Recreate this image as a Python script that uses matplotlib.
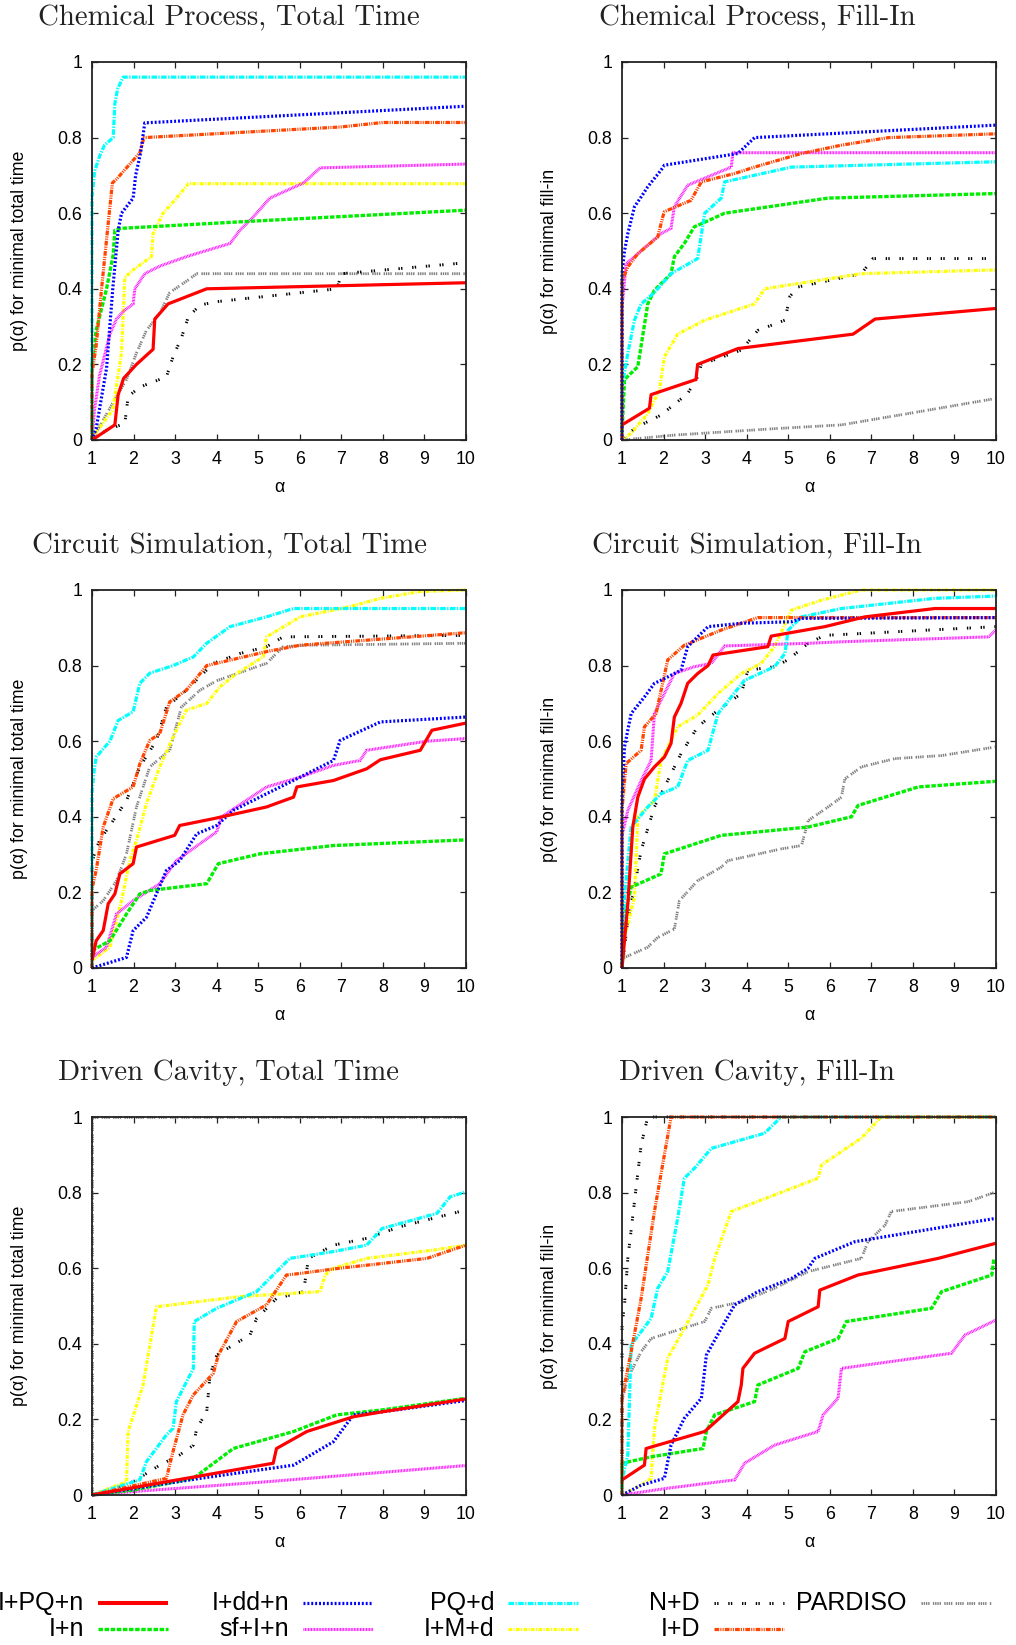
import matplotlib
matplotlib.use("Agg")
import matplotlib.pyplot as plt
from matplotlib.lines import Line2D

plt.rcParams['font.family'] = ['Liberation Sans', 'DejaVu Sans']
plt.rcParams['lines.scale_dashes'] = False

# ---------------- data ----------------
SERIES = ['I+PQ+n', 'I+n', 'I+dd+n', 'sf+I+n', 'PQ+d', 'I+M+d', 'N+D', 'I+D', 'PARDISO']
DRAW_ORDER = ['PARDISO', 'N+D', 'I+M+d', 'sf+I+n', 'I+n', 'PQ+d', 'I+D', 'I+dd+n', 'I+PQ+n']

X_TICKS = [1, 2, 3, 4, 5, 6, 7, 8, 9, 10]
Y_TICKS = [0, 0.2, 0.4, 0.6, 0.8, 1.0]
Y_TICK_LABELS = ['0', '0.2', '0.4', '0.6', '0.8', '1']

TITLES = ['Chemical Process, Total Time', 'Chemical Process, Fill-In',
          'Circuit Simulation, Total Time', 'Circuit Simulation, Fill-In',
          'Driven Cavity, Total Time', 'Driven Cavity, Fill-In']
YLABELS = ['p(α) for minimal total time', 'p(α) for minimal fill-in'] * 3
XLABEL = 'α'

CHEM_TIME = {
    'I+PQ+n': ([1, 1.55, 1.63, 1.76, 2.07, 2.47, 2.51, 2.83, 3.76, 10],
               [0, 0.04, 0.12, 0.163, 0.20, 0.24, 0.32, 0.36, 0.40, 0.416]),
    'I+dd+n': ([1, 1.1, 1.35, 1.5, 1.63, 1.71, 1.99, 2.05, 2.17, 2.27, 10],
               [0, 0.03, 0.19, 0.40, 0.555, 0.60, 0.64, 0.70, 0.76, 0.839, 0.883]),
    'PQ+d': ([1, 1.0, 1.06, 1.18, 1.3, 1.51, 1.55, 1.62, 1.75, 10],
             [0, 0.64, 0.71, 0.75, 0.78, 0.80, 0.89, 0.93, 0.96, 0.96]),
    'N+D': ([1, 1.35, 1.79, 1.87, 2.15, 2.79, 2.95, 3.15, 3.32, 3.6, 4.0, 6.89, 7.01, 10],
            [0, 0.026, 0.044, 0.115, 0.14, 0.167, 0.22, 0.27, 0.326, 0.357, 0.366, 0.40, 0.44, 0.469]),
    'PARDISO': ([1, 1.51, 1.83, 2.07, 2.31, 2.63, 2.87, 3.27, 3.52, 10],
                [0, 0.10, 0.16, 0.23, 0.29, 0.335, 0.39, 0.42, 0.44, 0.44]),
    'I+n': ([1, 1.0, 1.1, 1.35, 1.51, 1.55, 1.71, 5.04, 10],
            [0, 0.2, 0.29, 0.40, 0.49, 0.555, 0.56, 0.58, 0.608]),
    'sf+I+n': ([1, 1.06, 1.18, 1.43, 1.59, 1.75, 1.99, 2.03, 2.27, 2.63, 3.27, 4.32, 4.56, 4.88, 5.28, 6.09, 6.49, 10],
               [0, 0.08, 0.17, 0.28, 0.32, 0.34, 0.36, 0.40, 0.44, 0.46, 0.485, 0.52, 0.555, 0.59, 0.64, 0.68, 0.72, 0.73]),
    'I+M+d': ([1, 1.1, 1.5, 1.71, 1.79, 1.99, 2.43, 2.47, 2.71, 2.99, 3.32, 10],
              [0, 0.02, 0.08, 0.23, 0.43, 0.45, 0.485, 0.546, 0.60, 0.634, 0.678, 0.678]),
    'I+D': ([1, 1.0, 1.1, 1.23, 1.35, 1.49, 1.59, 2.15, 2.25, 6.97, 8.0, 10],
            [0, 0.176, 0.25, 0.40, 0.53, 0.68, 0.69, 0.76, 0.80, 0.828, 0.84, 0.84]),
}

CHEM_FILL = {
    'I+PQ+n': ([1, 1.66, 1.70, 2.78, 2.82, 3.79, 6.56, 7.09, 10],
               [0.04, 0.084, 0.12, 0.16, 0.20, 0.242, 0.28, 0.32, 0.348]),
    'I+dd+n': ([1, 1.0, 1.06, 1.14, 1.30, 1.46, 1.62, 1.94, 2.02, 3.79, 4.19, 10],
               [0, 0.44, 0.50, 0.546, 0.617, 0.643, 0.67, 0.714, 0.727, 0.758, 0.80, 0.833]),
    'PQ+d': ([1, 1.0, 1.14, 1.30, 1.46, 1.78, 2.18, 2.82, 2.99, 3.39, 3.47, 5.08, 10],
             [0.035, 0.14, 0.23, 0.317, 0.36, 0.39, 0.44, 0.48, 0.60, 0.64, 0.683, 0.722, 0.736]),
    'N+D': ([1, 1.14, 1.46, 1.94, 2.58, 2.82, 2.91, 3.87, 4.27, 4.92, 5.04, 5.24, 6.76, 7.04, 10],
            [0, 0.018, 0.04, 0.066, 0.123, 0.167, 0.20, 0.238, 0.29, 0.317, 0.38, 0.405, 0.44, 0.48, 0.48]),
    'PARDISO': ([1, 2.26, 4.67, 6.28, 7.89, 10],
                [0, 0.013, 0.03, 0.04, 0.07, 0.11]),
    'I+n': ([1, 1.06, 1.38, 1.62, 1.78, 2.18, 2.26, 2.50, 2.74, 3.07, 3.47, 5.96, 10],
            [0.018, 0.16, 0.194, 0.36, 0.396, 0.44, 0.485, 0.52, 0.564, 0.58, 0.60, 0.64, 0.652]),
    'sf+I+n': ([1, 1.0, 1.1, 1.30, 1.94, 2.18, 2.26, 2.58, 3.63, 3.67, 10],
               [0, 0.35, 0.467, 0.485, 0.546, 0.56, 0.617, 0.674, 0.722, 0.76, 0.76]),
    'I+M+d': ([1, 1.22, 1.62, 1.90, 2.02, 2.34, 2.99, 4.19, 4.43, 6.76, 10],
              [0, 0.018, 0.07, 0.132, 0.22, 0.28, 0.317, 0.36, 0.40, 0.44, 0.45]),
    'I+D': ([1, 1.0, 1.14, 1.38, 1.86, 1.98, 2.02, 2.66, 2.91, 3.71, 4.19, 5.32, 6.28, 7.41, 10],
            [0, 0.42, 0.458, 0.493, 0.537, 0.59, 0.604, 0.634, 0.683, 0.705, 0.722, 0.758, 0.78, 0.80, 0.81]),
}

CIRC_TIME = {
    'I+PQ+n': ([1, 1.10, 1.27, 1.39, 1.55, 1.67, 1.99, 2.07, 2.99, 3.11, 3.92, 5.2, 5.85, 5.93, 6.81, 7.61, 7.94, 8.90, 9.18, 10],
               [0.02, 0.072, 0.099, 0.17, 0.196, 0.249, 0.276, 0.32, 0.351, 0.377, 0.395, 0.426, 0.452, 0.479, 0.496, 0.527, 0.551, 0.576, 0.629, 0.648]),
    'I+dd+n': ([1, 1.83, 1.99, 2.31, 2.55, 2.79, 3.11, 3.52, 4.0, 4.40, 5.2, 6.01, 6.81, 6.97, 7.94, 10],
               [0, 0.028, 0.099, 0.134, 0.196, 0.258, 0.284, 0.355, 0.377, 0.417, 0.461, 0.505, 0.549, 0.602, 0.651, 0.664]),
    'PQ+d': ([1, 1.0, 1.04, 1.10, 1.43, 1.63, 1.99, 2.15, 2.39, 2.95, 3.44, 3.76, 4.32, 5.20, 5.85, 10],
             [0, 0.46, 0.514, 0.558, 0.60, 0.655, 0.678, 0.753, 0.78, 0.80, 0.823, 0.859, 0.903, 0.929, 0.951, 0.951]),
    'N+D': ([1, 1.0, 1.06, 1.18, 1.51, 1.83, 2.15, 2.55, 2.79, 3.27, 3.92, 4.56, 5.20, 5.60, 10],
            [0, 0.28, 0.302, 0.337, 0.39, 0.443, 0.532, 0.602, 0.69, 0.735, 0.806, 0.832, 0.85, 0.876, 0.88]),
    'PARDISO': ([1, 1.0, 1.27, 1.59, 1.83, 2.07, 2.39, 2.87, 3.15, 3.60, 4.0, 5.2, 5.60, 6.17, 10],
                [0, 0.152, 0.178, 0.231, 0.302, 0.426, 0.532, 0.576, 0.69, 0.735, 0.76, 0.806, 0.85, 0.854, 0.859]),
    'I+n': ([1, 1.43, 1.83, 2.15, 2.39, 3.76, 4.04, 5.04, 6.81, 10],
            [0.046, 0.072, 0.143, 0.196, 0.205, 0.223, 0.276, 0.302, 0.324, 0.339]),
    'sf+I+n': ([1, 1.35, 1.59, 1.99, 2.63, 3.03, 3.60, 4.0, 4.12, 5.2, 6.01, 6.81, 7.45, 7.61, 9.06, 10],
               [0.028, 0.055, 0.143, 0.178, 0.223, 0.284, 0.329, 0.36, 0.40, 0.479, 0.505, 0.536, 0.549, 0.576, 0.60, 0.607]),
    'I+M+d': ([1, 1.43, 1.71, 1.91, 2.07, 2.31, 2.63, 2.99, 3.27, 3.76, 4.08, 4.48, 5.12, 5.20, 6.01, 7.21, 7.94, 8.90, 10],
              [0.02, 0.055, 0.178, 0.284, 0.337, 0.435, 0.532, 0.62, 0.682, 0.70, 0.744, 0.779, 0.823, 0.876, 0.929, 0.956, 0.978, 0.996, 1.0]),
    'I+D': ([1, 1.0, 1.10, 1.27, 1.51, 1.99, 2.15, 2.39, 2.63, 2.87, 3.27, 3.76, 5.20, 6.01, 10],
            [0, 0.21, 0.258, 0.373, 0.448, 0.479, 0.54, 0.602, 0.62, 0.704, 0.735, 0.80, 0.837, 0.854, 0.887]),
}

CIRC_FILL = {
    'I+PQ+n': ([1, 1.14, 1.26, 1.38, 1.54, 1.78, 2.02, 2.18, 2.26, 2.42, 2.58, 2.82, 3.07, 3.19, 4.51, 4.59, 5.88, 6.85, 8.53, 10],
               [0, 0.17, 0.373, 0.452, 0.50, 0.532, 0.558, 0.594, 0.664, 0.70, 0.753, 0.779, 0.80, 0.828, 0.85, 0.878, 0.903, 0.929, 0.951, 0.951]),
    'I+dd+n': ([1, 1.0, 1.06, 1.22, 1.54, 1.78, 2.10, 2.42, 2.58, 3.07, 3.87, 5.08, 5.32, 10],
               [0, 0.45, 0.585, 0.673, 0.717, 0.753, 0.77, 0.788, 0.85, 0.903, 0.912, 0.916, 0.925, 0.927]),
    'PQ+d': ([1, 1.06, 1.22, 1.62, 1.94, 2.34, 2.58, 3.07, 3.31, 3.95, 4.67, 4.92, 5.0, 5.32, 6.28, 8.53, 10],
             [0, 0.187, 0.373, 0.426, 0.461, 0.479, 0.549, 0.576, 0.673, 0.761, 0.797, 0.832, 0.894, 0.929, 0.951, 0.978, 0.984]),
    'N+D': ([1, 1.14, 1.30, 1.46, 1.78, 2.10, 2.42, 2.82, 3.31, 3.87, 4.03, 4.67, 4.99, 5.48, 5.88, 10],
            [0, 0.125, 0.214, 0.311, 0.426, 0.496, 0.567, 0.638, 0.682, 0.726, 0.788, 0.797, 0.815, 0.859, 0.88, 0.903]),
    'PARDISO': ([1, 1.0, 1.62, 1.86, 2.26, 2.38, 2.82, 3.39, 3.55, 4.83, 5.32, 5.48, 5.96, 6.28, 6.36, 6.76, 7.57, 8.69, 10],
                [0, 0.025, 0.055, 0.081, 0.103, 0.178, 0.231, 0.267, 0.284, 0.315, 0.324, 0.39, 0.426, 0.452, 0.50, 0.532, 0.554, 0.562, 0.585]),
    'I+n': ([1, 1.06, 1.22, 1.94, 2.02, 3.39, 4.27, 5.48, 6.52, 6.68, 8.13, 10],
            [0, 0.134, 0.214, 0.249, 0.302, 0.351, 0.36, 0.373, 0.40, 0.43, 0.479, 0.494]),
    'sf+I+n': ([1, 1.0, 1.14, 1.46, 1.70, 1.78, 2.26, 2.74, 3.15, 3.47, 5.48, 6.28, 9.82, 10],
               [0, 0.35, 0.417, 0.496, 0.549, 0.673, 0.779, 0.797, 0.806, 0.852, 0.859, 0.863, 0.876, 0.894]),
    'I+M+d': ([1, 1.06, 1.30, 1.38, 1.78, 1.94, 2.34, 2.82, 3.31, 3.87, 4.35, 4.67, 5.08, 5.80, 6.76, 10],
              [0, 0.081, 0.187, 0.40, 0.443, 0.549, 0.638, 0.669, 0.726, 0.779, 0.806, 0.85, 0.947, 0.973, 1.0, 1.0]),
    'I+D': ([1, 1.0, 1.10, 1.46, 1.54, 1.82, 2.10, 2.50, 3.39, 4.27, 10],
            [0, 0.42, 0.541, 0.576, 0.638, 0.673, 0.815, 0.854, 0.894, 0.927, 0.927]),
}

DRIV_TIME = {
    'I+PQ+n': ([1, 2.79, 5.36, 5.44, 6.17, 7.29, 7.98, 10],
               [0, 0.035, 0.084, 0.123, 0.168, 0.207, 0.22, 0.254]),
    'I+dd+n': ([1, 3.60, 5.85, 6.81, 7.29, 7.98, 10],
               [0, 0.044, 0.079, 0.141, 0.212, 0.22, 0.25]),
    'PQ+d': ([1, 2.15, 2.31, 2.79, 2.95, 3.03, 3.44, 3.46, 4.0, 4.96, 5.76, 6.0, 6.81, 7.61, 7.98, 9.30, 9.62, 10],
             [0, 0.04, 0.088, 0.159, 0.176, 0.247, 0.335, 0.459, 0.494, 0.538, 0.626, 0.63, 0.644, 0.661, 0.705, 0.745, 0.789, 0.802]),
    'N+D': ([1, 1.99, 2.63, 3.11, 3.44, 3.52, 3.76, 3.84, 4.0, 4.40, 4.80, 4.96, 5.44, 6.09, 6.21, 6.81, 7.61, 8.42, 10],
            [0, 0.035, 0.079, 0.106, 0.132, 0.176, 0.22, 0.317, 0.37, 0.397, 0.423, 0.467, 0.52, 0.538, 0.626, 0.661, 0.679, 0.71, 0.754]),
    'PARDISO': ([1, 1, 10],
                [0, 1, 1]),
    'I+n': ([1, 1.99, 3.44, 4.40, 5.85, 6.89, 7.98, 10],
            [0, 0.013, 0.044, 0.123, 0.168, 0.212, 0.225, 0.256]),
    'sf+I+n': ([1, 1.99, 5.2, 10],
               [0, 0.009, 0.035, 0.078]),
    'I+M+d': ([1, 1.83, 1.87, 2.23, 2.55, 4.56, 6.49, 6.61, 6.81, 7.61, 9.22, 10],
              [0, 0.035, 0.168, 0.291, 0.498, 0.525, 0.538, 0.582, 0.60, 0.626, 0.648, 0.661]),
    'I+D': ([1, 2.79, 2.95, 3.19, 3.44, 3.92, 4.04, 4.48, 5.20, 5.68, 6.0, 6.81, 9.06, 10],
            [0, 0.044, 0.115, 0.212, 0.265, 0.322, 0.37, 0.459, 0.503, 0.582, 0.586, 0.598, 0.626, 0.661]),
}

DRIV_FILL = {
    'I+PQ+n': ([1, 1.54, 1.58, 2.99, 3.79, 3.87, 3.91, 4.19, 4.92, 5.0, 5.72, 5.76, 6.68, 8.61, 10],
               [0.04, 0.079, 0.123, 0.168, 0.247, 0.291, 0.335, 0.375, 0.414, 0.459, 0.498, 0.542, 0.582, 0.626, 0.666]),
    'I+dd+n': ([1, 1.46, 2.02, 2.18, 2.50, 2.91, 3.03, 3.39, 3.71, 4.27, 5.08, 5.48, 5.64, 6.60, 10],
               [0, 0.026, 0.044, 0.132, 0.203, 0.256, 0.37, 0.441, 0.503, 0.538, 0.573, 0.60, 0.626, 0.67, 0.732]),
    'PQ+d': ([1, 1.0, 1.14, 1.22, 1.46, 1.70, 1.86, 2.10, 2.34, 2.50, 2.74, 3.15, 4.43, 4.83, 10],
             [0, 0.04, 0.106, 0.397, 0.432, 0.467, 0.547, 0.591, 0.732, 0.838, 0.864, 0.917, 0.957, 1.0, 1.0]),
    'N+D': ([1, 1.0, 1.06, 1.14, 1.30, 1.46, 1.62, 10],
            [0, 0.45, 0.503, 0.626, 0.776, 0.926, 1.0, 1.0]),
    'PARDISO': ([1, 1.0, 1.14, 1.46, 1.70, 2.99, 3.15, 3.87, 4.67, 5.48, 6.76, 6.92, 7.33, 7.48, 9.33, 10],
                [0, 0.25, 0.309, 0.379, 0.414, 0.459, 0.494, 0.511, 0.547, 0.591, 0.626, 0.67, 0.714, 0.75, 0.776, 0.802]),
    'I+n': ([1, 1.0, 1.70, 2.95, 3.03, 3.23, 4.19, 4.27, 5.24, 5.40, 6.20, 6.40, 8.45, 8.69, 9.90, 9.95],
            [0, 0.084, 0.101, 0.123, 0.168, 0.212, 0.247, 0.291, 0.335, 0.379, 0.414, 0.459, 0.494, 0.538, 0.582, 0.626]),
    'sf+I+n': ([1, 2.10, 3.71, 3.95, 4.67, 5.72, 5.84, 6.20, 6.28, 8.93, 9.25, 10],
               [0, 0.018, 0.04, 0.084, 0.132, 0.168, 0.212, 0.256, 0.335, 0.375, 0.423, 0.463]),
    'I+M+d': ([1, 1.46, 1.70, 1.78, 2.10, 2.50, 3.07, 3.23, 3.63, 5.08, 5.72, 5.80, 6.76, 7.24, 10],
              [0, 0.026, 0.044, 0.176, 0.362, 0.441, 0.556, 0.626, 0.75, 0.811, 0.838, 0.873, 0.944, 1.0, 1.0]),
    'I+D': ([1, 1.0, 1.22, 1.46, 1.78, 2.02, 2.18, 10],
            [0, 0.256, 0.379, 0.52, 0.75, 0.90, 1.0, 1.0]),
}

PANELS = [CHEM_TIME, CHEM_FILL, CIRC_TIME, CIRC_FILL, DRIV_TIME, DRIV_FILL]

# ---------------- styles ----------------
STYLE = {
    'I+PQ+n': dict(color='#ff0000', lw=2.3, ls='-'),
    'I+n':    dict(color='#00ee00', lw=2.4, ls=(0, (3.2, 1.2))),
    'I+dd+n': dict(color='#0000ff', lw=2.3, ls=(0, (1.4, 1.4))),
    'sf+I+n': dict(color='#ff00ff', lw=2.2, ls=(0, (0.6, 0.5))),
    'PQ+d':   dict(color='#00ffff', lw=2.3, ls=(0, (4.0, 1.0, 1.0, 1.0))),
    'I+M+d':  dict(color='#ffff00', lw=2.3, ls=(0, (2.6, 1.0, 0.8, 1.0))),
    'N+D':    dict(color='#000000', lw=2.1, ls=(0, (1.0, 0.9, 1.0, 7.0))),
    'I+D':    dict(color='#ff4500', lw=2.3, ls=(0, (3.4, 0.8, 0.8, 0.8, 0.8, 0.8))),
    'PARDISO': dict(color='#808080', lw=2.0, ls=(0, (1.0, 0.6, 1.0, 0.6, 1.0, 0.6, 1.0, 2.4))),
}

# ---------------- layout (pixels) ----------------
W, H = 1016, 1645
AX_W, AX_H = 374, 378
COL_LEFT = [92, 622]
ROW_TOP = [62, 590, 1117]
TITLE_X = [229, 757]
TITLE_Y = [18, 546, 1073]
YLABEL_X = [28, 558]

fig = plt.figure(figsize=(W / 100, H / 100), dpi=100)

for i, data in enumerate(PANELS):
    r, c = divmod(i, 2)
    left = COL_LEFT[c] / W
    bottom = 1 - (ROW_TOP[r] + AX_H) / H
    ax = fig.add_axes([left, bottom, AX_W / W, AX_H / H])
    for name in DRAW_ORDER:
        xs, ys = data[name]
        st = STYLE[name]
        ax.plot(xs, ys, color=st['color'], lw=st['lw'], ls=st['ls'],
                solid_capstyle='butt', dash_capstyle='butt', clip_on=False)
    ax.set_xlim(1, 10)
    ax.set_ylim(0, 1)
    ax.set_xticks(X_TICKS)
    ax.set_xticklabels([str(t) for t in X_TICKS])
    ax.set_yticks(Y_TICKS)
    ax.set_yticklabels(Y_TICK_LABELS)
    ax.tick_params(direction='in', length=4, width=0.9, top=True, right=True,
                   labelsize=12.8, colors='#222222', labelcolor='black')
    ax.tick_params(axis='x', pad=8)
    ax.tick_params(axis='y', pad=7)
    for sp in ax.spines.values():
        sp.set_linewidth(1.3)
        sp.set_color('#222222')
    ax.set_xlabel(XLABEL, fontsize=12.8, labelpad=8)
    ax.set_ylabel(YLABELS[i], fontsize=12.8)
    ax.yaxis.set_label_coords(-(COL_LEFT[c] - YLABEL_X[c]) / AX_W, 0.5)
    fig.text(TITLE_X[c] / W, 1 - TITLE_Y[r] / H, TITLES[i], family='cmr10',
             fontsize=20.8, ha='center', va='center', color='#222222')

# ---------------- legend ----------------
LEG_RIGHT = [84, 289, 494, 700, 907]
LEG_ROWS = [1603, 1629]
LEG_POS = {'I+PQ+n': (0, 0), 'I+n': (0, 1), 'I+dd+n': (1, 0), 'sf+I+n': (1, 1),
           'PQ+d': (2, 0), 'I+M+d': (2, 1), 'N+D': (3, 0), 'I+D': (3, 1), 'PARDISO': (4, 0)}
for name in SERIES:
    col, row = LEG_POS[name]
    xr = LEG_RIGHT[col]
    y = 1 - LEG_ROWS[row] / H
    fig.text(xr / W, y, name, fontsize=18, ha='right', va='center')
    st = STYLE[name]
    fig.add_artist(Line2D([(xr + 14) / W, (xr + 84) / W], [y, y], color=st['color'],
                          lw=st['lw'] + (0.6 if name == 'I+PQ+n' else 0), ls=st['ls'],
                          solid_capstyle='butt', dash_capstyle='butt',
                          transform=fig.transFigure))

fig.savefig('out.png', dpi=100)
